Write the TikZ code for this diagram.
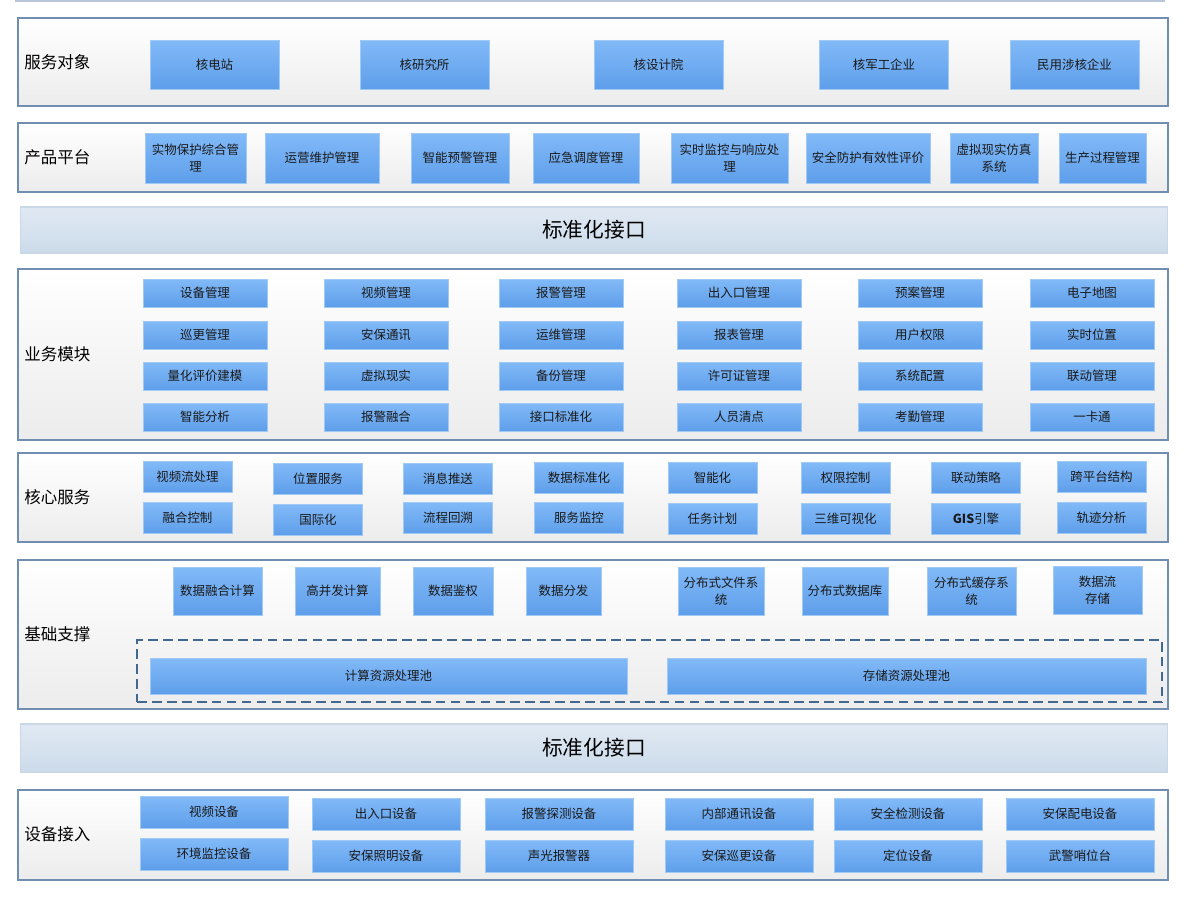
\documentclass[tikz,border=0pt]{standalone}
\usepackage{fontspec}
\setmainfont{Noto Sans CJK SC}
\usepackage{xcolor}
\usepackage{tikz}
\definecolor{panelline}{RGB}{112,142,178}
\definecolor{boxtop}{RGB}{130,186,248}
\definecolor{boxbot}{RGB}{94,158,234}
\definecolor{boxline}{RGB}{160,202,244}
\definecolor{bartop}{RGB}{224,233,243}
\definecolor{barbot}{RGB}{204,219,234}
\definecolor{dashline}{RGB}{66,104,144}
\definecolor{boxtext}{RGB}{25,25,25}

\begin{document}
\begin{tikzpicture}[x=0.02cm,y=-0.02cm,
    panel/.style={draw=panelline,line width=1.2pt,top color=white,bottom color={rgb,255:red,236;green,236;blue,236},inner sep=0pt,minimum width=23cm},
    bar/.style={draw=bartop!80!panelline,line width=0.6pt,top color=bartop,bottom color=barbot,inner sep=0pt,minimum width=22.96cm,font=\fontsize{11.8}{14}\selectfont},
    box/.style={draw=boxline,line width=0.4pt,top color=boxtop,bottom color=boxbot,inner sep=1pt,align=center,text=boxtext,font=\fontsize{7.1}{9.5}\selectfont},
    lbl/.style={anchor=west,inner sep=0pt,font=\fontsize{9.4}{11}\selectfont},
    pooldash/.style={draw=dashline,line width=1pt,dash pattern=on 5.5pt off 3pt,inner sep=0pt}]
    \useasboundingbox (0,0) rectangle (1191,899);
    \draw[panelline!50,line width=0.6pt] (15,1) -- (1165,1);

    % layers
    \node[panel,minimum height=1.76cm] (p1) at (593,62) {};
    \node[panel,minimum height=1.38cm] (p2) at (593,157.5) {};
    \node[bar,minimum height=0.92cm] (b1) at (594,230) {标准化接口};
    \node[panel,minimum height=3.42cm] (p3) at (593,354.5) {};
    \node[panel,minimum height=1.78cm] (p4) at (593,497.5) {};
    \node[panel,minimum height=2.98cm] (p5) at (593,634.5) {};
    \node[bar,minimum height=0.96cm] (b2) at (594,748) {标准化接口};
    \node[panel,minimum height=1.8cm] (p6) at (593,835) {};

    \node[lbl] (l1) at (24,62) {服务对象};
    \node[lbl] (l2) at (24,157) {产品平台};
    \node[lbl] (l3) at (24,354) {业务模块};
    \node[lbl] (l4) at (24,497) {核心服务};
    \node[lbl] (l5) at (24,634) {基础支撑};
    \node[lbl] (l6) at (24,834) {设备接入};

    % 服务对象
    \node[box,minimum width=2.58cm,minimum height=0.98cm] (a1) at (214.5,64.5) {核电站};
    \node[box,minimum width=2.58cm,minimum height=0.98cm] (a2) at (424.5,64.5) {核研究所};
    \node[box,minimum width=2.58cm,minimum height=0.98cm] (a3) at (658.5,64.5) {核设计院};
    \node[box,minimum width=2.58cm,minimum height=0.98cm] (a4) at (884,64.5) {核军工企业};
    \node[box,minimum width=2.58cm,minimum height=0.98cm] (a5) at (1074.5,64.5) {民用涉核企业};

    % 产品平台
    \node[box,minimum width=2.02cm,minimum height=1cm] (c1) at (195.5,158) {实物保护综合管\\理};
    \node[box,minimum width=2.28cm,minimum height=1cm] (c2) at (322,158) {运营维护管理};
    \node[box,minimum width=1.96cm,minimum height=1cm] (c3) at (460,158) {智能预警管理};
    \node[box,minimum width=2.12cm,minimum height=1cm] (c4) at (586,158) {应急调度管理};
    \node[box,minimum width=2.34cm,minimum height=1cm] (c5) at (729.5,158) {实时监控与响应处\\理};
    \node[box,minimum width=2.48cm,minimum height=1cm] (c6) at (868,158) {安全防护有效性评价};
    \node[box,minimum width=1.76cm,minimum height=1cm] (c7) at (994,158) {虚拟现实仿真\\系统};
    \node[box,minimum width=1.74cm,minimum height=1cm] (c8) at (1102.5,158) {生产过程管理};

    % 业务模块
    \node[box,minimum width=2.48cm,minimum height=0.56cm] (m1) at (205,293) {设备管理};
    \node[box,minimum width=2.48cm,minimum height=0.56cm] (m2) at (386,293) {视频管理};
    \node[box,minimum width=2.48cm,minimum height=0.56cm] (m3) at (561,293) {报警管理};
    \node[box,minimum width=2.48cm,minimum height=0.56cm] (m4) at (739,293) {出入口管理};
    \node[box,minimum width=2.48cm,minimum height=0.56cm] (m5) at (920,293) {预案管理};
    \node[box,minimum width=2.48cm,minimum height=0.56cm] (m6) at (1092,293) {电子地图};
    \node[box,minimum width=2.48cm,minimum height=0.56cm] (m7) at (205,335) {巡更管理};
    \node[box,minimum width=2.48cm,minimum height=0.56cm] (m8) at (386,335) {安保通讯};
    \node[box,minimum width=2.48cm,minimum height=0.56cm] (m9) at (561,335) {运维管理};
    \node[box,minimum width=2.48cm,minimum height=0.56cm] (m10) at (739,335) {报表管理};
    \node[box,minimum width=2.48cm,minimum height=0.56cm] (m11) at (920,335) {用户权限};
    \node[box,minimum width=2.48cm,minimum height=0.56cm] (m12) at (1092,335) {实时位置};
    \node[box,minimum width=2.48cm,minimum height=0.56cm] (m13) at (205,376) {量化评价建模};
    \node[box,minimum width=2.48cm,minimum height=0.56cm] (m14) at (386,376) {虚拟现实};
    \node[box,minimum width=2.48cm,minimum height=0.56cm] (m15) at (561,376) {备份管理};
    \node[box,minimum width=2.48cm,minimum height=0.56cm] (m16) at (739,376) {许可证管理};
    \node[box,minimum width=2.48cm,minimum height=0.56cm] (m17) at (920,376) {系统配置};
    \node[box,minimum width=2.48cm,minimum height=0.56cm] (m18) at (1092,376) {联动管理};
    \node[box,minimum width=2.48cm,minimum height=0.56cm] (m19) at (205,417) {智能分析};
    \node[box,minimum width=2.48cm,minimum height=0.56cm] (m20) at (386,417) {报警融合};
    \node[box,minimum width=2.48cm,minimum height=0.56cm] (m21) at (561,417) {接口标准化};
    \node[box,minimum width=2.48cm,minimum height=0.56cm] (m22) at (739,417) {人员清点};
    \node[box,minimum width=2.48cm,minimum height=0.56cm] (m23) at (920,417) {考勤管理};
    \node[box,minimum width=2.48cm,minimum height=0.56cm] (m24) at (1092,417) {一卡通};

    % 核心服务
    \node[box,minimum width=1.78cm,minimum height=0.62cm] (h1) at (187.5,477) {视频流处理};
    \node[box,minimum width=1.78cm,minimum height=0.62cm] (h2) at (318,478.5) {位置服务};
    \node[box,minimum width=1.78cm,minimum height=0.62cm] (h3) at (448,478.5) {消息推送};
    \node[box,minimum width=1.78cm,minimum height=0.62cm] (h4) at (579,478) {数据标准化};
    \node[box,minimum width=1.78cm,minimum height=0.62cm] (h5) at (712.5,478) {智能化};
    \node[box,minimum width=1.78cm,minimum height=0.62cm] (h6) at (845.5,478) {权限控制};
    \node[box,minimum width=1.78cm,minimum height=0.62cm] (h7) at (976,478) {联动策略};
    \node[box,minimum width=1.78cm,minimum height=0.62cm] (h8) at (1101.5,477) {跨平台结构};
    \node[box,minimum width=1.78cm,minimum height=0.62cm] (h9) at (187.5,518) {融合控制};
    \node[box,minimum width=1.78cm,minimum height=0.62cm] (h10) at (318,519.5) {国际化};
    \node[box,minimum width=1.78cm,minimum height=0.62cm] (h11) at (448,518) {流程回溯};
    \node[box,minimum width=1.78cm,minimum height=0.62cm] (h12) at (579,518) {服务监控};
    \node[box,minimum width=1.78cm,minimum height=0.62cm] (h13) at (712.5,519) {任务计划};
    \node[box,minimum width=1.78cm,minimum height=0.62cm] (h14) at (845.5,519) {三维可视化};
    \node[box,minimum width=1.78cm,minimum height=0.62cm] (h15) at (976,519) {\textbf{GIS}引擎};
    \node[box,minimum width=1.78cm,minimum height=0.62cm] (h16) at (1101.5,517.5) {轨迹分析};

    % 基础支撑
    \node[box,minimum width=1.78cm,minimum height=0.96cm] (j1) at (217.5,591) {数据融合计算};
    \node[box,minimum width=1.7cm,minimum height=0.96cm] (j2) at (337.5,591) {高并发计算};
    \node[box,minimum width=1.6cm,minimum height=0.96cm] (j3) at (453,591) {数据鉴权};
    \node[box,minimum width=1.5cm,minimum height=0.96cm] (j4) at (563.5,591) {数据分发};
    \node[box,minimum width=1.72cm,minimum height=0.96cm] (j5) at (721,591) {分布式文件系\\统};
    \node[box,minimum width=1.72cm,minimum height=0.96cm] (j6) at (845,591) {分布式数据库};
    \node[box,minimum width=1.78cm,minimum height=0.96cm] (j7) at (971.5,591) {分布式缓存系\\统};
    \node[box,minimum width=1.78cm,minimum height=0.96cm] (j8) at (1097.5,590) {数据流\\存储};
    \node[pooldash,minimum width=20.5cm,minimum height=1.24cm] (pools) at (649.5,671) {};
    \node[box,minimum width=9.54cm,minimum height=0.72cm] (pool1) at (388.5,676) {计算资源处理池};
    \node[box,minimum width=9.58cm,minimum height=0.72cm] (pool2) at (906.5,676) {存储资源处理池};

    % 设备接入
    \node[box,minimum width=2.96cm,minimum height=0.64cm] (d1) at (214,812) {视频设备};
    \node[box,minimum width=2.96cm,minimum height=0.64cm] (d2) at (386,814) {出入口设备};
    \node[box,minimum width=2.96cm,minimum height=0.64cm] (d3) at (559,814) {报警探测设备};
    \node[box,minimum width=2.96cm,minimum height=0.64cm] (d4) at (739,814) {内部通讯设备};
    \node[box,minimum width=2.96cm,minimum height=0.64cm] (d5) at (908,814) {安全检测设备};
    \node[box,minimum width=2.96cm,minimum height=0.64cm] (d6) at (1080,814) {安保配电设备};
    \node[box,minimum width=2.96cm,minimum height=0.64cm] (d7) at (214,854) {环境监控设备};
    \node[box,minimum width=2.96cm,minimum height=0.64cm] (d8) at (386,856) {安保照明设备};
    \node[box,minimum width=2.96cm,minimum height=0.64cm] (d9) at (559,856) {声光报警器};
    \node[box,minimum width=2.96cm,minimum height=0.64cm] (d10) at (739,856) {安保巡更设备};
    \node[box,minimum width=2.96cm,minimum height=0.64cm] (d11) at (908,856) {定位设备};
    \node[box,minimum width=2.96cm,minimum height=0.64cm] (d12) at (1080,856) {武警哨位台};

\end{tikzpicture}
\end{document}
